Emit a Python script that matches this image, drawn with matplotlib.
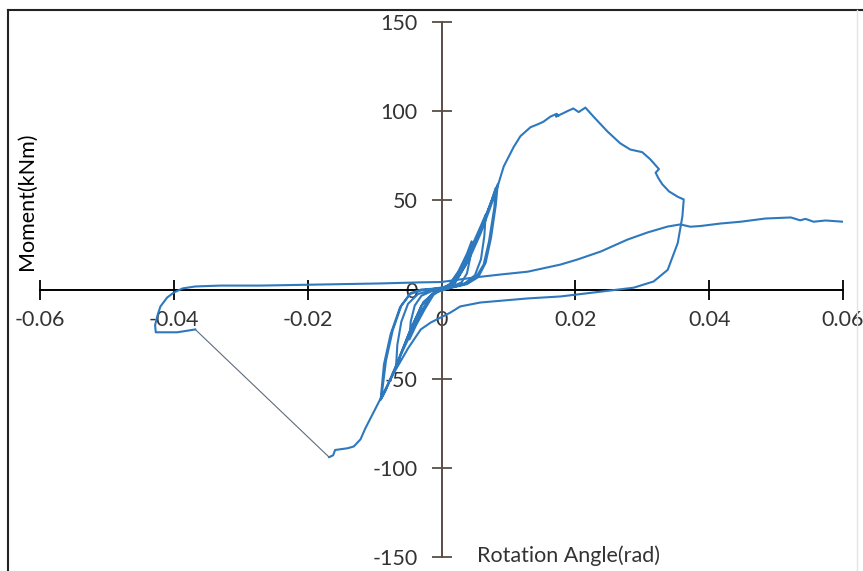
import matplotlib
matplotlib.use('Agg')
import matplotlib.pyplot as plt
from matplotlib.lines import Line2D

plt.rcParams['font.family'] = ['Lato', 'DejaVu Sans']

# ---- data (rotation in rad, moment in kNm) ----
# small cycles
cyc_rot = [0, 0.0012, 0.0025, 0.0038, 0.0045, 0.0043, 0.0038, 0.003, 0.0015, 0, -0.0012, -0.0025, -0.0038, -0.0048,
           -0.0046, -0.004, -0.003, -0.0015, 0,
           0.0012, 0.0028, 0.0045, 0.0058, 0.0066, 0.0064, 0.0059, 0.005, 0.0035, 0.0015, 0, -0.0015, -0.003, -0.0045,
           -0.006, -0.0068, -0.0066, -0.006, -0.005, -0.0035, -0.0015, 0,
           0.0015, 0.003, 0.0048, 0.0063, 0.0075, 0.0081, 0.0079, 0.0071, 0.0063, 0.0051, 0.0033, 0.0013, -0.001,
           -0.0027, -0.0046, -0.0066, -0.0082, -0.009, -0.0083, -0.0073, -0.006, -0.0046, -0.003, -0.001, 0.0005,
           0.002, 0.0035, 0.0052, 0.0066, 0.0078, 0.0084, 0.0081, 0.0074, 0.0066, 0.0055, 0.0038, 0.0015, -0.0012,
           -0.003, -0.005, -0.0068, -0.0084, -0.0091, -0.0086, -0.0076, -0.0062, -0.0047, -0.003, -0.001, 0.0005]
cyc_mom = [0, 3, 10, 20, 27, 18, 9, 4, 1.5, 0, -3, -11, -20, -28,
           -18, -9, -3.5, -1, 0.5,
           2.5, 11, 24, 35, 42, 30, 17, 8, 3.5, 1.5, 0, -3, -12, -24,
           -36, -44, -31, -18, -8, -2.5, -0.5, 0.8,
           3, 11, 25, 38, 50, 57, 46, 27, 14, 6.5, 2.8, 1, -1.5,
           -7, -22, -41, -55, -61, -40, -23, -9, -2, 0, 0.5, 1,
           3.5, 13, 28, 41, 53, 59, 47, 29, 15, 7, 3, 1, -2,
           -9, -26, -43, -57, -62, -42, -25, -10, -2.5, -0.5, 0.5, 1.5]

# large positive excursion, unloading and negative loading
big_rot = [0.002, 0.004, 0.0058, 0.0072, 0.0084, 0.0093, 0.0108, 0.0118, 0.0133, 0.0143, 0.0152, 0.0163, 0.0172,
           0.0175, 0.0171, 0.0180, 0.0188, 0.0197, 0.0205, 0.0215, 0.0227, 0.0248, 0.0267, 0.0282, 0.030, 0.0312,
           0.0325, 0.0320, 0.0324, 0.0330, 0.0340, 0.0353, 0.0362,
           0.0360, 0.0353, 0.0338, 0.0317, 0.0287, 0.0227, 0.0178, 0.0129, 0.0058, 0.0028, 0.0013, -0.0016, -0.0031,
           -0.005, -0.007, -0.0084, -0.0099, -0.0114, -0.0121, -0.0131, -0.0140, -0.0150, -0.0159, -0.0162, -0.0168]
big_mom = [4, 16, 31, 45, 58, 69, 80, 86, 91, 92.5, 94, 97, 98.5,
           97.5, 97, 98.5, 100, 101.5, 99.5, 102, 97, 88.6, 82, 78.5, 77, 73,
           67.5, 65.5, 62.5, 59, 55, 52, 50.5,
           41, 26, 11, 4.5, 1, -1.7, -3.9, -5, -7.3, -9.5, -13, -18.5, -22.4,
           -33, -46, -56, -67, -78, -84, -88, -89, -89.5, -90, -93, -94]

# sudden drop (thin segment)
drop_rot = [-0.0168, -0.0368]
drop_mom = [-94, -22.4]

# hook and final low-stiffness reloading
rel_rot = [-0.0368, -0.0395, -0.0427, -0.0428, -0.0424, -0.042, -0.041, -0.040, -0.0387, -0.0368, -0.033, -0.027,
           -0.018, -0.0091, -0.0031, 0, 0.0048, 0.0088, 0.0129, 0.0178, 0.0203, 0.0238, 0.0278, 0.0308, 0.0338,
           0.0357, 0.0372, 0.0387, 0.0417, 0.0447, 0.0484, 0.0522, 0.0536, 0.0544, 0.0556, 0.0574, 0.060]
rel_mom = [-22.4, -24, -24, -20, -14, -9.5, -4.5, -1.7, 0.6, 1.7, 2.2, 2.2,
           2.8, 3.4, 4, 4.2, 6.7, 8.4, 10, 14, 16.8, 21.3, 28, 32, 35.3,
           36.5, 35.2, 35.6, 37, 38, 39.8, 40.4, 38.8, 39.6, 38.0, 38.7, 38]

x_ticks = [-0.06, -0.04, -0.02, 0, 0.02, 0.04, 0.06]
x_labels = ['-0.06', '-0.04', '-0.02', '0', '0.02', '0.04', '0.06']
y_ticks = [-150, -100, -50, 0, 50, 100, 150]
y_labels = ['-150', '-100', '-50', '0', '50', '100', '150']

BLUE = '#2E78BE'
TXT = '#333333'
FS = 15.5

fig = plt.figure(figsize=(8.63, 5.71), dpi=100)
ax = fig.add_axes([40 / 863, 1 - 557 / 571, 803 / 863, 535 / 571])

ax.plot(cyc_rot + big_rot, cyc_mom + big_mom, color=BLUE, lw=1.5, zorder=3, solid_joinstyle='round')
ax.plot(drop_rot, drop_mom, color='#5d6c7c', lw=0.8, zorder=3)
ax.plot(rel_rot, rel_mom, color=BLUE, lw=1.5, zorder=3, solid_joinstyle='round')

ax.set_xlim(-0.06, 0.06)
ax.set_ylim(-150, 150)
for s in ['top', 'right']:
    ax.spines[s].set_visible(False)
ax.spines['left'].set_position(('data', 0))
ax.spines['bottom'].set_position(('data', 0))
ax.spines['bottom'].set_color('black')
ax.spines['bottom'].set_linewidth(1.4)
ax.spines['left'].set_color('#5a4d47')
ax.spines['left'].set_linewidth(1.4)

ax.set_xticks(x_ticks)
ax.set_xticklabels(x_labels)
ax.set_yticks(y_ticks)
ax.set_yticklabels(y_labels)
ax.tick_params(axis='x', direction='inout', length=14, width=1.3, color='black', pad=8,
               labelsize=FS, labelcolor=TXT)
ax.tick_params(axis='y', direction='inout', length=14, width=1.3, color='#5a4d47', pad=10,
               labelsize=FS, labelcolor=TXT)

fig.text(568 / 863, 1 - 556 / 571, 'Rotation Angle(rad)', ha='center', va='center', fontsize=FS, color=TXT)
fig.text(27 / 863, 1 - 201 / 571, 'Moment(kNm)', ha='center', va='center', rotation=90, fontsize=FS, color='black')

# outer frame
fig.add_artist(Line2D([8 / 863, 8 / 863], [0, 1 - 10 / 571], transform=fig.transFigure, color='#222222', lw=1.5))
fig.add_artist(Line2D([8 / 863, 1], [1 - 10 / 571, 1 - 10 / 571], transform=fig.transFigure, color='#222222', lw=1.5))
fig.add_artist(Line2D([857 / 863, 857 / 863], [0, 1 - 10 / 571], transform=fig.transFigure, color='#e4e4e4', lw=1.0))

fig.savefig('out.png', dpi=100)
